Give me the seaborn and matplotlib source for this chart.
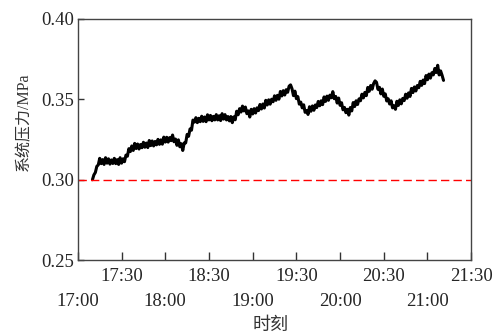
import pandas as pd
import matplotlib.pyplot as plt
import seaborn as sns

sns.set_style("ticks")
plt.rcParams['font.family'] = ['Liberation Serif', 'Noto Sans CJK SC']

# pressure readings, one per minute starting at 17:10
pressure = [
    0.3000, 0.3030, 0.3045, 0.3083, 0.3092, 0.3133, 0.3100, 0.3125, 0.3095, 0.3137,
    0.3103, 0.3130, 0.3097, 0.3123, 0.3101, 0.3133, 0.3100, 0.3125, 0.3095, 0.3137,
    0.3103, 0.3130, 0.3112, 0.3153, 0.3146, 0.3193, 0.3175, 0.3210, 0.3182, 0.3226,
    0.3194, 0.3222, 0.3191, 0.3219, 0.3199, 0.3233, 0.3202, 0.3228, 0.3200, 0.3244,
    0.3212, 0.3241, 0.3210, 0.3238, 0.3217, 0.3251, 0.3220, 0.3248, 0.3221, 0.3265,
    0.3234, 0.3264, 0.3234, 0.3262, 0.3243, 0.3278, 0.3236, 0.3253, 0.3214, 0.3248,
    0.3205, 0.3224, 0.3182, 0.3229, 0.3229, 0.3282, 0.3270, 0.3316, 0.3308, 0.3371,
    0.3358, 0.3386, 0.3355, 0.3382, 0.3361, 0.3395, 0.3363, 0.3390, 0.3361, 0.3404,
    0.3372, 0.3400, 0.3367, 0.3394, 0.3372, 0.3405, 0.3372, 0.3398, 0.3368, 0.3411,
    0.3377, 0.3405, 0.3372, 0.3393, 0.3366, 0.3393, 0.3355, 0.3391, 0.3373, 0.3426,
    0.3404, 0.3442, 0.3421, 0.3458, 0.3428, 0.3452, 0.3411, 0.3428, 0.3390, 0.3438,
    0.3409, 0.3442, 0.3415, 0.3447, 0.3430, 0.3468, 0.3440, 0.3471, 0.3446, 0.3494,
    0.3465, 0.3497, 0.3470, 0.3501, 0.3485, 0.3522, 0.3494, 0.3525, 0.3501, 0.3549,
    0.3521, 0.3554, 0.3527, 0.3560, 0.3544, 0.3582, 0.3590, 0.3566, 0.3523, 0.3551,
    0.3504, 0.3517, 0.3470, 0.3483, 0.3447, 0.3466, 0.3419, 0.3430, 0.3406, 0.3454,
    0.3426, 0.3459, 0.3432, 0.3465, 0.3449, 0.3487, 0.3460, 0.3491, 0.3467, 0.3515,
    0.3487, 0.3520, 0.3494, 0.3526, 0.3510, 0.3548, 0.3504, 0.3518, 0.3477, 0.3508,
    0.3463, 0.3479, 0.3435, 0.3450, 0.3417, 0.3438, 0.3402, 0.3449, 0.3428, 0.3480,
    0.3455, 0.3491, 0.3468, 0.3503, 0.3491, 0.3532, 0.3509, 0.3543, 0.3523, 0.3574,
    0.3550, 0.3586, 0.3563, 0.3598, 0.3615, 0.3606, 0.3562, 0.3575, 0.3534, 0.3564,
    0.3519, 0.3534, 0.3490, 0.3504, 0.3471, 0.3491, 0.3447, 0.3460, 0.3438, 0.3488,
    0.3462, 0.3497, 0.3472, 0.3506, 0.3492, 0.3532, 0.3507, 0.3540, 0.3518, 0.3568,
    0.3542, 0.3577, 0.3552, 0.3586, 0.3572, 0.3612, 0.3587, 0.3620, 0.3598, 0.3648,
    0.3622, 0.3657, 0.3632, 0.3666, 0.3652, 0.3692, 0.3667, 0.3712, 0.3652, 0.3677,
    0.3650, 0.3618,
]
start_time = "2020-01-01 17:10"
threshold = 0.30
upper_labels = ["17:30", "18:30", "19:30", "20:30", "21:30"]
lower_labels = ["17:00", "18:00", "19:00", "20:00", "21:00"]

df = pd.DataFrame({
    "time": pd.date_range(start_time, periods=len(pressure), freq="1min"),
    "p": pressure,
})

fig = plt.figure(figsize=(4.96, 3.33), dpi=100)
ax = fig.add_axes([0.157, 0.219, 0.793, 0.724])

sns.lineplot(data=df, x="time", y="p", color="black", linewidth=2.2, ax=ax)
ax.axhline(threshold, color="red", linestyle=(0, (6, 3)), linewidth=1.0)

t0 = pd.Timestamp("2020-01-01 17:00")
t1 = pd.Timestamp("2020-01-01 21:30")
ax.set_xlim(t0, t1)
ax.set_ylim(0.25, 0.40)
ax.set_xticks(pd.date_range("2020-01-01 17:30", t1, freq="60min"))
ax.set_xticklabels(upper_labels)
ax.set_xticks(pd.date_range(t0, t1, freq="60min"), minor=True)
ax.set_xticklabels(lower_labels, minor=True)
ax.set_yticks([0.25, 0.30, 0.35, 0.40])
ax.set_yticklabels(["0.25", "0.30", "0.35", "0.40"])

ax.tick_params(axis="x", which="both", direction="in", length=6, width=1,
               labelsize=13.5, color="#333333")
ax.tick_params(axis="x", which="major", pad=6)
ax.tick_params(axis="x", which="minor", pad=24)
ax.tick_params(axis="y", direction="in", length=4, width=1, labelsize=13.5,
               pad=3, color="#333333")
for s in ax.spines.values():
    s.set_color("#444444")
    s.set_linewidth(1.0)

ax.set_xlabel("时刻", fontsize=13, color="#333333")
ax.set_ylabel("系统压力/MPa", fontsize=11.5, color="#333333")
ax.xaxis.set_label_coords(0.49, -0.235)
ax.yaxis.set_label_coords(-0.117, 0.573)

fig.savefig("out.png", dpi=100)
